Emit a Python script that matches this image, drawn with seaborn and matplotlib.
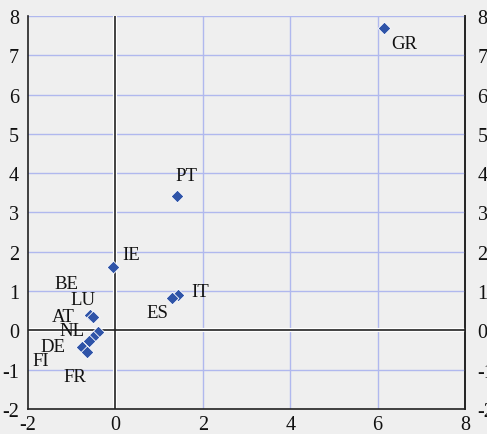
import matplotlib
matplotlib.use("Agg")
import matplotlib.pyplot as plt
import seaborn as sns
import pandas as pd

# data
countries = ['GR', 'PT', 'IE', 'IT', 'ES', 'BE', 'LU', 'AT', 'NL', 'FI', 'DE', 'FR']
x_vals = [6.14, 1.40, -0.05, 1.43, 1.29, -0.57, -0.51, -0.39, -0.51, -0.60, -0.76, -0.64]
y_vals = [7.70, 3.42, 1.61, 0.89, 0.82, 0.38, 0.33, -0.03, -0.18, -0.28, -0.41, -0.56]
ticks = [-2, 0, 2, 4, 6, 8]
yticks = list(range(-2, 9))

# label offsets in points (layout only)
offsets = {'GR': (15, -11), 'PT': (7, 15), 'IE': (13, 9), 'IT': (16, 3),
           'ES': (-10, -10), 'BE': (-17, 23), 'LU': (-7, 13), 'AT': (-25, 11),
           'NL': (-15, 5), 'FI': (-35, -14), 'DE': (-21, 0), 'FR': (-9, -17)}

df = pd.DataFrame({'country': countries, 'x': x_vals, 'y': y_vals})

bg = '#efefef'
sns.set_style('white', rc={'axes.facecolor': bg, 'figure.facecolor': bg})
plt.rcParams['font.family'] = ['Liberation Serif', 'DejaVu Serif']
plt.rcParams['axes.unicode_minus'] = False

fig = plt.figure(figsize=(4.87, 4.35), dpi=100)
ax = fig.add_axes([28 / 487, 25 / 435, 437 / 487, 393 / 435])

for v in [2, 4, 6]:
    ax.axvline(v, color='#b0b8ee', lw=1, zorder=1)
for v in range(1, 9):
    ax.axhline(v, color='#b0b8ee', lw=1, zorder=1)
ax.axhline(-1, color='#b0b8ee', lw=1, zorder=1)

# zero lines with a light edge
ax.axhline(0, color='white', lw=3, zorder=1.5)
ax.axhline(0, color='#222222', lw=1.2, zorder=2)
ax.axvline(0, color='white', lw=3, zorder=1.5)
ax.axvline(0, color='#222222', lw=1.2, zorder=2)

sns.scatterplot(data=df, x='x', y='y', marker='D', s=42, color='#2f54a8',
                edgecolor='white', linewidth=0.6, zorder=3, ax=ax)

for c, xv, yv in zip(countries, x_vals, y_vals):
    dx, dy = offsets[c]
    ax.annotate(c, (xv, yv), xytext=(dx, dy), textcoords='offset points',
                ha='center', va='center', fontsize=13.5, color='#111111')

ax.set_xlim(-2, 8)
ax.set_ylim(-2, 8)
ax.set_xticks(ticks)
ax.set_yticks(yticks)
ax.set_xlabel('')
ax.set_ylabel('')
ax.tick_params(axis='x', labelsize=14.5, colors='#111111', length=3, width=1,
               direction='out', pad=1, top=False)
ax.tick_params(axis='y', labelsize=14.5, colors='#111111', length=0, pad=6.5)

# right-hand copy of the y labels
sec = ax.secondary_yaxis('right')
sec.set_yticks(yticks)
sec.tick_params(labelsize=14.5, colors='#111111', length=0, pad=9)
sec.spines['right'].set_color('#222222')
sec.spines['right'].set_linewidth(1.2)

for side in ['left', 'right', 'bottom']:
    ax.spines[side].set_color('#222222')
    ax.spines[side].set_linewidth(1.2)
ax.spines['top'].set_visible(False)

fig.savefig('out.png', dpi=100, facecolor=bg)
